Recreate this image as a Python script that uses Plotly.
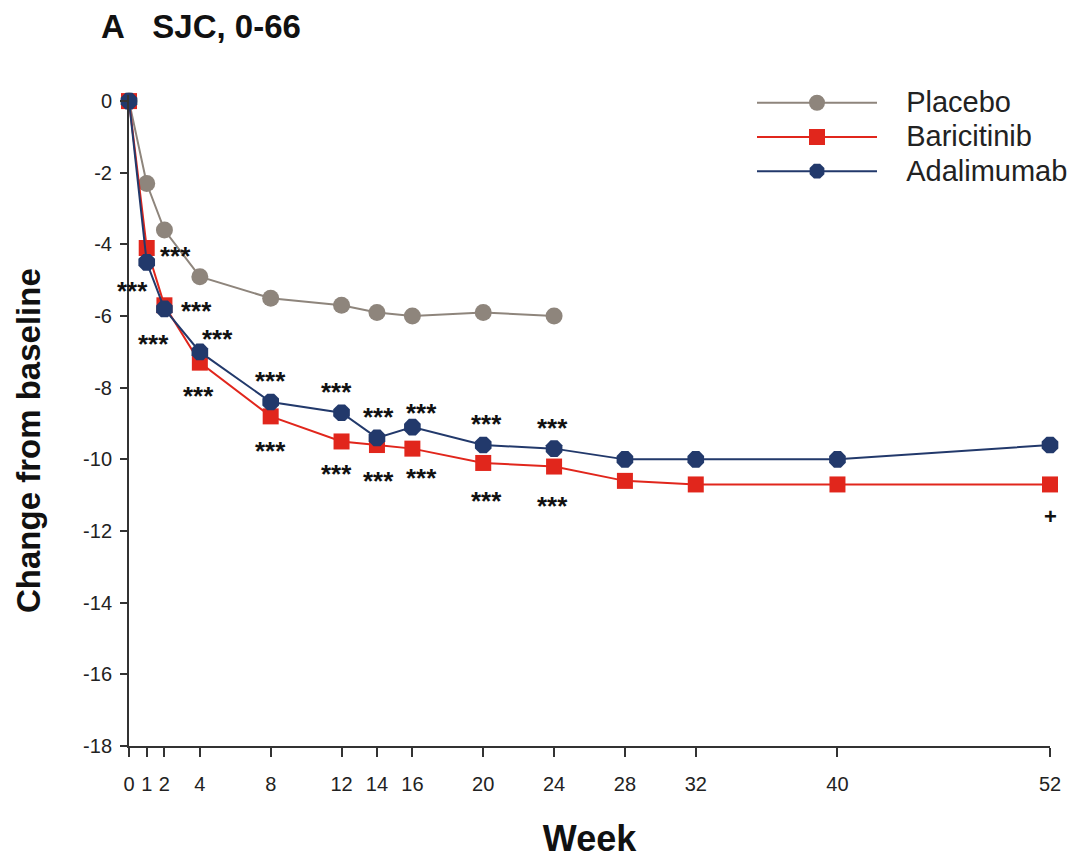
import plotly.graph_objects as go

weeks_pbo = [0, 1, 2, 4, 8, 12, 14, 16, 20, 24]
placebo = [0, -2.3, -3.6, -4.9, -5.5, -5.7, -5.9, -6.0, -5.9, -6.0]

weeks_act = [0, 1, 2, 4, 8, 12, 14, 16, 20, 24, 28, 32, 40, 52]
baricitinib = [0, -4.1, -5.7, -7.3, -8.8, -9.5, -9.6, -9.7, -10.1, -10.2, -10.6, -10.7, -10.7, -10.7]
adalimumab = [0, -4.5, -5.8, -7.0, -8.4, -8.7, -9.4, -9.1, -9.6, -9.7, -10.0, -10.0, -10.0, -9.6]

x_ticks = [0, 1, 2, 4, 8, 12, 14, 16, 20, 24, 28, 32, 40, 52]
y_ticks = [0, -2, -4, -6, -8, -10, -12, -14, -16, -18]

# significance labels: (week, y, text)
sig_x = [2.6, 0.17, 3.8, 1.4, 5.0, 3.9, 8.0, 8.0, 11.7, 11.7, 14.1, 14.1, 16.5, 16.5, 20.2, 20.2, 23.9, 23.9, 52]
sig_y = [-4.2, -5.2, -5.75, -6.67, -6.53, -8.12, -7.7, -9.66, -8.0, -10.3, -8.7, -10.5, -8.6, -10.4, -8.9, -11.05, -9.0, -11.2, -11.6]
sig_t = ["***"] * 18 + ["+"]

FONT = "Liberation Sans, Arial, sans-serif"
LEG = "<span style='font-size:29px'>%s</span>"
GAP = "\u00a0\u00a0\u00a0"

fig = go.Figure()
fig.add_trace(go.Scatter(x=weeks_pbo, y=placebo, name=LEG % (GAP + "Placebo"), mode="lines+markers",
                         line=dict(color="#8E857C", width=2),
                         marker=dict(symbol="circle", size=17, color="#8E857C"),
                         cliponaxis=False))
fig.add_trace(go.Scatter(x=weeks_act, y=baricitinib, name=LEG % (GAP + "Baricitinib"), mode="lines+markers",
                         line=dict(color="#E1261C", width=2),
                         marker=dict(symbol="square", size=16, color="#E1261C"),
                         cliponaxis=False))
fig.add_trace(go.Scatter(x=weeks_act, y=adalimumab, name=LEG % (GAP + "Adalimumab"), mode="lines+markers",
                         line=dict(color="#22396B", width=2),
                         marker=dict(symbol="octagon", size=18, color="#22396B"),
                         cliponaxis=False))

for xv, yv, t in zip(sig_x, sig_y, sig_t):
    star = t == "***"
    fig.add_annotation(x=xv, y=yv, text="<b>%s</b>" % t, showarrow=False,
                       font=dict(family=FONT, size=26 if star else 22, color="#111"),
                       xanchor="center", yanchor="middle", yshift=-4 if star else 0)

# y-axis title as rotated annotation (centered where the reference has it)
fig.add_annotation(xref="paper", yref="paper", x=-(129 - 28) / 921, y=(746 - 441) / 651,
                   text="<b>Change from baseline</b>", textangle=-90, showarrow=False,
                   xanchor="center", yanchor="middle",
                   font=dict(family=FONT, size=33, color="#111"))

fig.update_layout(
    width=1076, height=859,
    margin=dict(l=129, r=26, t=95, b=113, autoexpand=False),
    paper_bgcolor="white", plot_bgcolor="white",
    font=dict(family=FONT, color="#222"),
    title=dict(text="<b>A\u00a0\u00a0 SJC, 0-66</b>", x=101 / 1076, xanchor="left", y=1 - 26 / 859, yanchor="middle",
               font=dict(family=FONT, size=33, color="#111")),
    showlegend=True,
    legend=dict(x=(752 - 129) / 921, xanchor="left", y=1.022, yanchor="top",
                font=dict(family=FONT, size=24, color="#222"),
                itemwidth=120, tracegroupgap=0, bgcolor="rgba(0,0,0,0)"),
)
fig.update_xaxes(range=[0, 52], tickvals=x_ticks, ticktext=[str(v) for v in x_ticks],
                 showgrid=False, zeroline=False, showline=True, linecolor="#333", linewidth=2,
                 ticks="outside", ticklen=9, tickwidth=1.5, tickcolor="#333", ticklabelstandoff=10,
                 tickfont=dict(family=FONT, size=20, color="#222"),
                 title=dict(text="<b>Week</b>", font=dict(family=FONT, size=36, color="#111"), standoff=37))
fig.update_yaxes(range=[-18, 0.17], tickvals=y_ticks, ticktext=[str(v) for v in y_ticks],
                 showgrid=False, zeroline=False, showline=True, linecolor="#333", linewidth=2,
                 ticks="outside", ticklen=7, tickwidth=1.5, tickcolor="#333", ticklabelstandoff=4,
                 tickfont=dict(family=FONT, size=20, color="#222"))

fig.write_html("out.html")
